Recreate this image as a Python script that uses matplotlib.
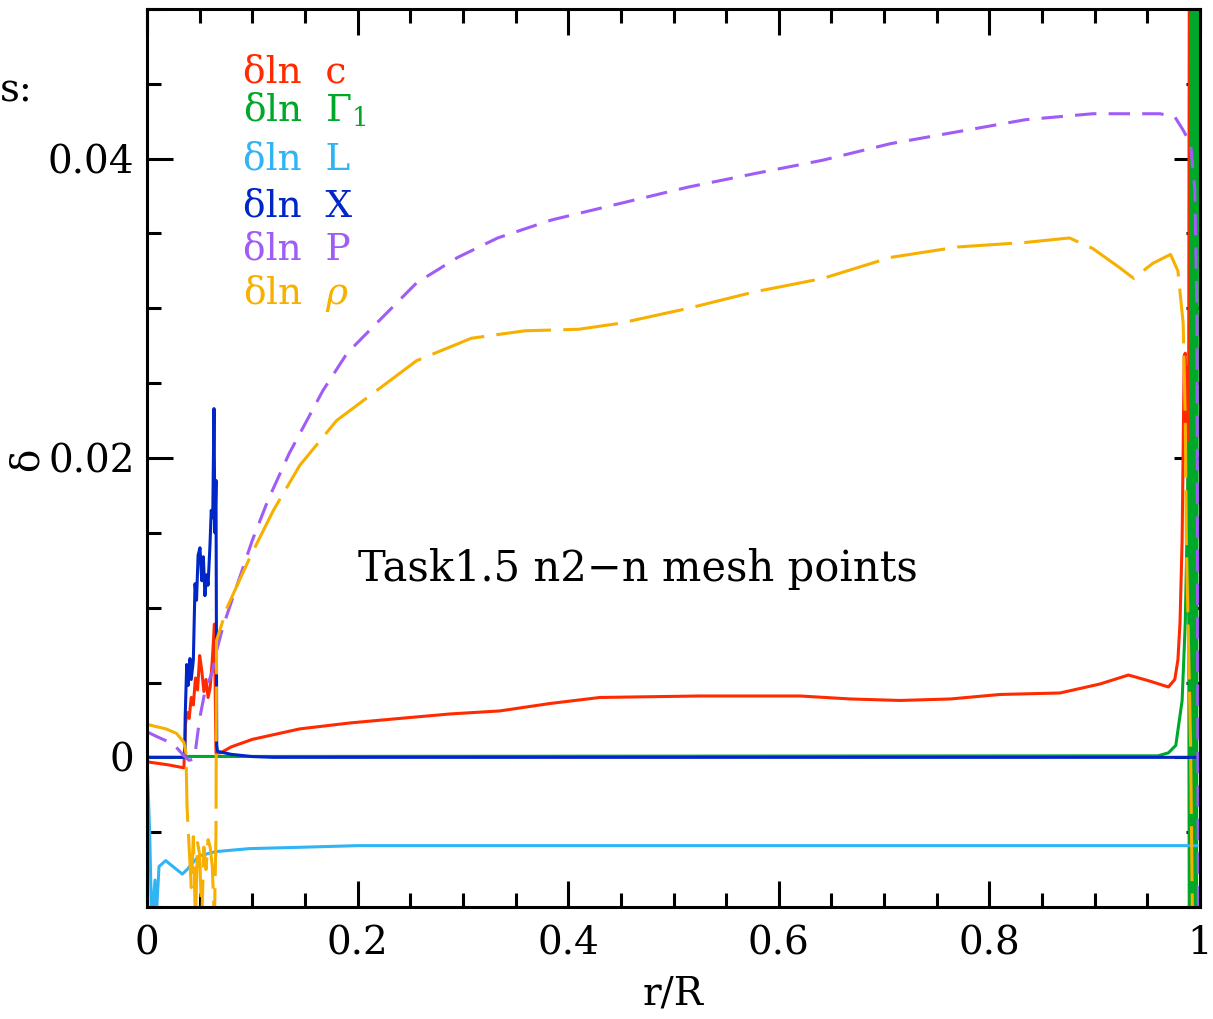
import matplotlib
matplotlib.use('Agg')
from matplotlib import pyplot as plt
from matplotlib.ticker import MultipleLocator

plt.rcParams['font.family'] = ['DejaVu Serif']
plt.rcParams['mathtext.fontset'] = 'dejavuserif'

# delta ln c
r_c = [0.0, 0.02, 0.035, 0.0365, 0.038, 0.040, 0.042, 0.044, 0.046, 0.048,
       0.050, 0.052, 0.054, 0.056, 0.058, 0.060, 0.062, 0.064, 0.0655, 0.07,
       0.08, 0.1, 0.145, 0.193, 0.24, 0.288, 0.335, 0.383, 0.43, 0.525,
       0.62, 0.668, 0.715, 0.763, 0.81, 0.867, 0.905, 0.932, 0.952, 0.970,
       0.976, 0.979, 0.981, 0.983, 0.985, 0.986, 0.987, 0.988, 0.989, 0.990,
       0.9905, 0.991]
d_c = [-0.0003, -0.0005, -0.0007, 0.0022, 0.0030, 0.0026, 0.0040, 0.0035, 0.0053, 0.0045,
       0.0068, 0.0058, 0.0044, 0.0052, 0.0040, 0.0047, 0.0065, 0.0089, 0.0003, 0.0003,
       0.0007, 0.0012, 0.0019, 0.0023, 0.0026, 0.0029, 0.0031, 0.0036, 0.0040, 0.0041,
       0.0041, 0.0039, 0.0038, 0.0039, 0.0042, 0.0043, 0.0049, 0.0055, 0.0051, 0.0047,
       0.0052, 0.0065, 0.0090, 0.0145, 0.0268, 0.0270, 0.0200, 0.0260, 0.0150, 0.0600,
       -0.0200, 0.0600]

# delta ln Gamma_1
r_g = [0.0, 0.035, 0.04, 0.1, 0.5, 0.9, 0.96, 0.97, 0.977, 0.983,
       0.986, 0.9875, 0.989, 0.990, 0.992, 0.9935, 0.995, 0.9965, 0.998]
d_g = [0.0, 0.0, 0.00006, 0.00006, 0.00008, 0.0001, 0.0001, 0.0003, 0.0008, 0.0038,
       0.0090, 0.0145, 0.0210, -0.0200, 0.0600, -0.0200, 0.0600, -0.0200, 0.0600]

# delta ln L
r_L = [0.0, 0.0025, 0.0044, 0.0076, 0.0085, 0.0114, 0.0177, 0.0335, 0.038, 0.049,
       0.065, 0.097, 0.15, 0.2, 0.4, 0.6, 0.8, 0.99, 0.997]
d_L = [0.0, -0.0050, -0.0110, -0.0082, -0.0110, -0.0073, -0.0069, -0.0078, -0.0075, -0.0066,
       -0.0063, -0.0061, -0.0060, -0.0059, -0.0059, -0.0059, -0.0059, -0.0059, -0.0059]

# delta ln X
r_X = [0.0, 0.036, 0.0362, 0.0377, 0.039, 0.0408, 0.042, 0.044, 0.0456, 0.047,
       0.0485, 0.0503, 0.052, 0.0535, 0.055, 0.0567, 0.058, 0.0598, 0.061, 0.0624,
       0.0636, 0.0645, 0.0655, 0.0662, 0.067, 0.08, 0.1, 0.12, 0.998]
d_X = [0.0, 0.0, 0.0026, 0.0062, 0.0048, 0.0066, 0.0052, 0.0065, 0.0116, 0.0105,
       0.0135, 0.0140, 0.0118, 0.0134, 0.0108, 0.0122, 0.0115, 0.0142, 0.0165, 0.0160,
       0.0233, 0.0150, 0.0185, 0.0008, 0.0004, 0.0002, 0.00005, 0.0, 0.0]

# delta ln P
r_P = [0.0, 0.012, 0.025, 0.035, 0.040, 0.045, 0.050, 0.055, 0.062, 0.066,
       0.072, 0.085, 0.100, 0.115, 0.135, 0.167, 0.190, 0.218, 0.256, 0.295,
       0.333, 0.384, 0.449, 0.514, 0.577, 0.642, 0.706, 0.770, 0.834, 0.898,
       0.962, 0.976, 0.984, 0.991, 0.995, 0.997, 0.998, 0.999]
d_P = [0.0017, 0.0013, 0.0009, 0.0001, -0.0002, -0.0001, 0.0026, 0.0044, 0.0057, 0.0071,
       0.0087, 0.0114, 0.0145, 0.0172, 0.0203, 0.0245, 0.0270, 0.0290, 0.0317, 0.0334,
       0.0347, 0.0359, 0.0370, 0.0381, 0.0390, 0.0399, 0.0410, 0.0418, 0.0426, 0.0430,
       0.0430, 0.0428, 0.0419, 0.0410, 0.0380, 0.0300, 0.0000, -0.0200]

# delta ln rho
r_rho = [0.0, 0.018, 0.028, 0.035, 0.037, 0.038, 0.040, 0.042, 0.044, 0.046,
         0.048, 0.050, 0.052, 0.054, 0.056, 0.058, 0.060, 0.062, 0.064, 0.0655,
         0.066, 0.076, 0.085, 0.098, 0.120, 0.145, 0.180, 0.218, 0.256, 0.308,
         0.359, 0.410, 0.449, 0.514, 0.577, 0.642, 0.706, 0.770, 0.834, 0.876,
         0.898, 0.924, 0.937, 0.955, 0.972, 0.979, 0.984, 0.986, 0.987, 0.989,
         0.991, 0.993]
d_rho = [0.0022, 0.0019, 0.0016, 0.0010, 0.0003, -0.0033, -0.0060, -0.0087, -0.0053, -0.0110,
         -0.0057, -0.0065, -0.0110, -0.0060, -0.0075, -0.0055, -0.0060, -0.0073, -0.0110, -0.0050,
         0.0078, 0.0100, 0.0114, 0.0134, 0.0165, 0.0195, 0.0225, 0.0245, 0.0265, 0.0280,
         0.0285, 0.0286, 0.0290, 0.0300, 0.0311, 0.0320, 0.0334, 0.0341, 0.0344, 0.0347,
         0.0340, 0.0327, 0.0320, 0.0330, 0.0336, 0.0325, 0.0290, 0.0225, 0.0145, 0.0078,
         0.0010, -0.0120]

names = ['c', r'$\Gamma_1$', 'L', 'X', 'P', r'$\rho$']
colours = ['#ff2a00', '#00a82a', '#30b4f4', '#0026c8', '#a05cf6', '#f7b000']


def main():
    fig = plt.figure(figsize=(12.13, 10.19), dpi=100)
    ax = fig.add_axes([0.1212, 0.1099, 0.8681, 0.8813])

    series = [(r_c, d_c), (r_g, d_g), (r_L, d_L), (r_X, d_X), (r_P, d_P), (r_rho, d_rho)]
    styles = ['-', '-', '-', '-', (0, (7, 4)), (0, (18, 4))]
    for (r, d), col, ls in zip(series, colours, styles):
        ax.plot(r, d, color=col, lw=2.2, ls=ls)

    ax.set_xlim(0, 1)
    ax.set_ylim(-0.01, 0.05)
    ax.xaxis.set_minor_locator(MultipleLocator(0.05))
    ax.yaxis.set_minor_locator(MultipleLocator(0.005))
    ax.set_xticks([0, 0.2, 0.4, 0.6, 0.8, 1])
    ax.set_xticklabels(['0', '0.2', '0.4', '0.6', '0.8', '1'])
    ax.set_yticks([0, 0.02, 0.04])
    ax.set_yticklabels(['0', '0.02', '0.04'])
    ax.tick_params(which='both', direction='in', top=True, right=True,
                   width=2.2, labelsize=28)
    ax.tick_params(which='major', length=19)
    ax.tick_params(which='minor', length=10)
    ax.tick_params(axis='x', pad=13)
    ax.tick_params(axis='y', pad=9)
    for sp in ax.spines.values():
        sp.set_linewidth(2.2)

    ax.set_xlabel('r/R', fontsize=28, labelpad=10)
    # y label sits right against the 0.02 tick label, as in the original
    fig.text(0.022, 0.549, 'δ', fontsize=28, rotation=90, ha='center', va='center')
    fig.text(0.0, 0.911, 's:', fontsize=28, ha='left', va='center')

    # colour-coded labels at the top left
    label_y = [0.929, 0.892, 0.843, 0.797, 0.755, 0.712]
    for name, col, y in zip(names, colours, label_y):
        fig.text(0.2, y, 'δln  ' + name, color=col, fontsize=27, va='center')

    ax.text(0.2, 0.0126, 'Task1.5 n2\u2212n mesh points', fontsize=30,
            ha='left', va='center')

    fig.savefig('out.png', dpi=100)
    plt.close(fig)


if __name__ == '__main__':
    main()
